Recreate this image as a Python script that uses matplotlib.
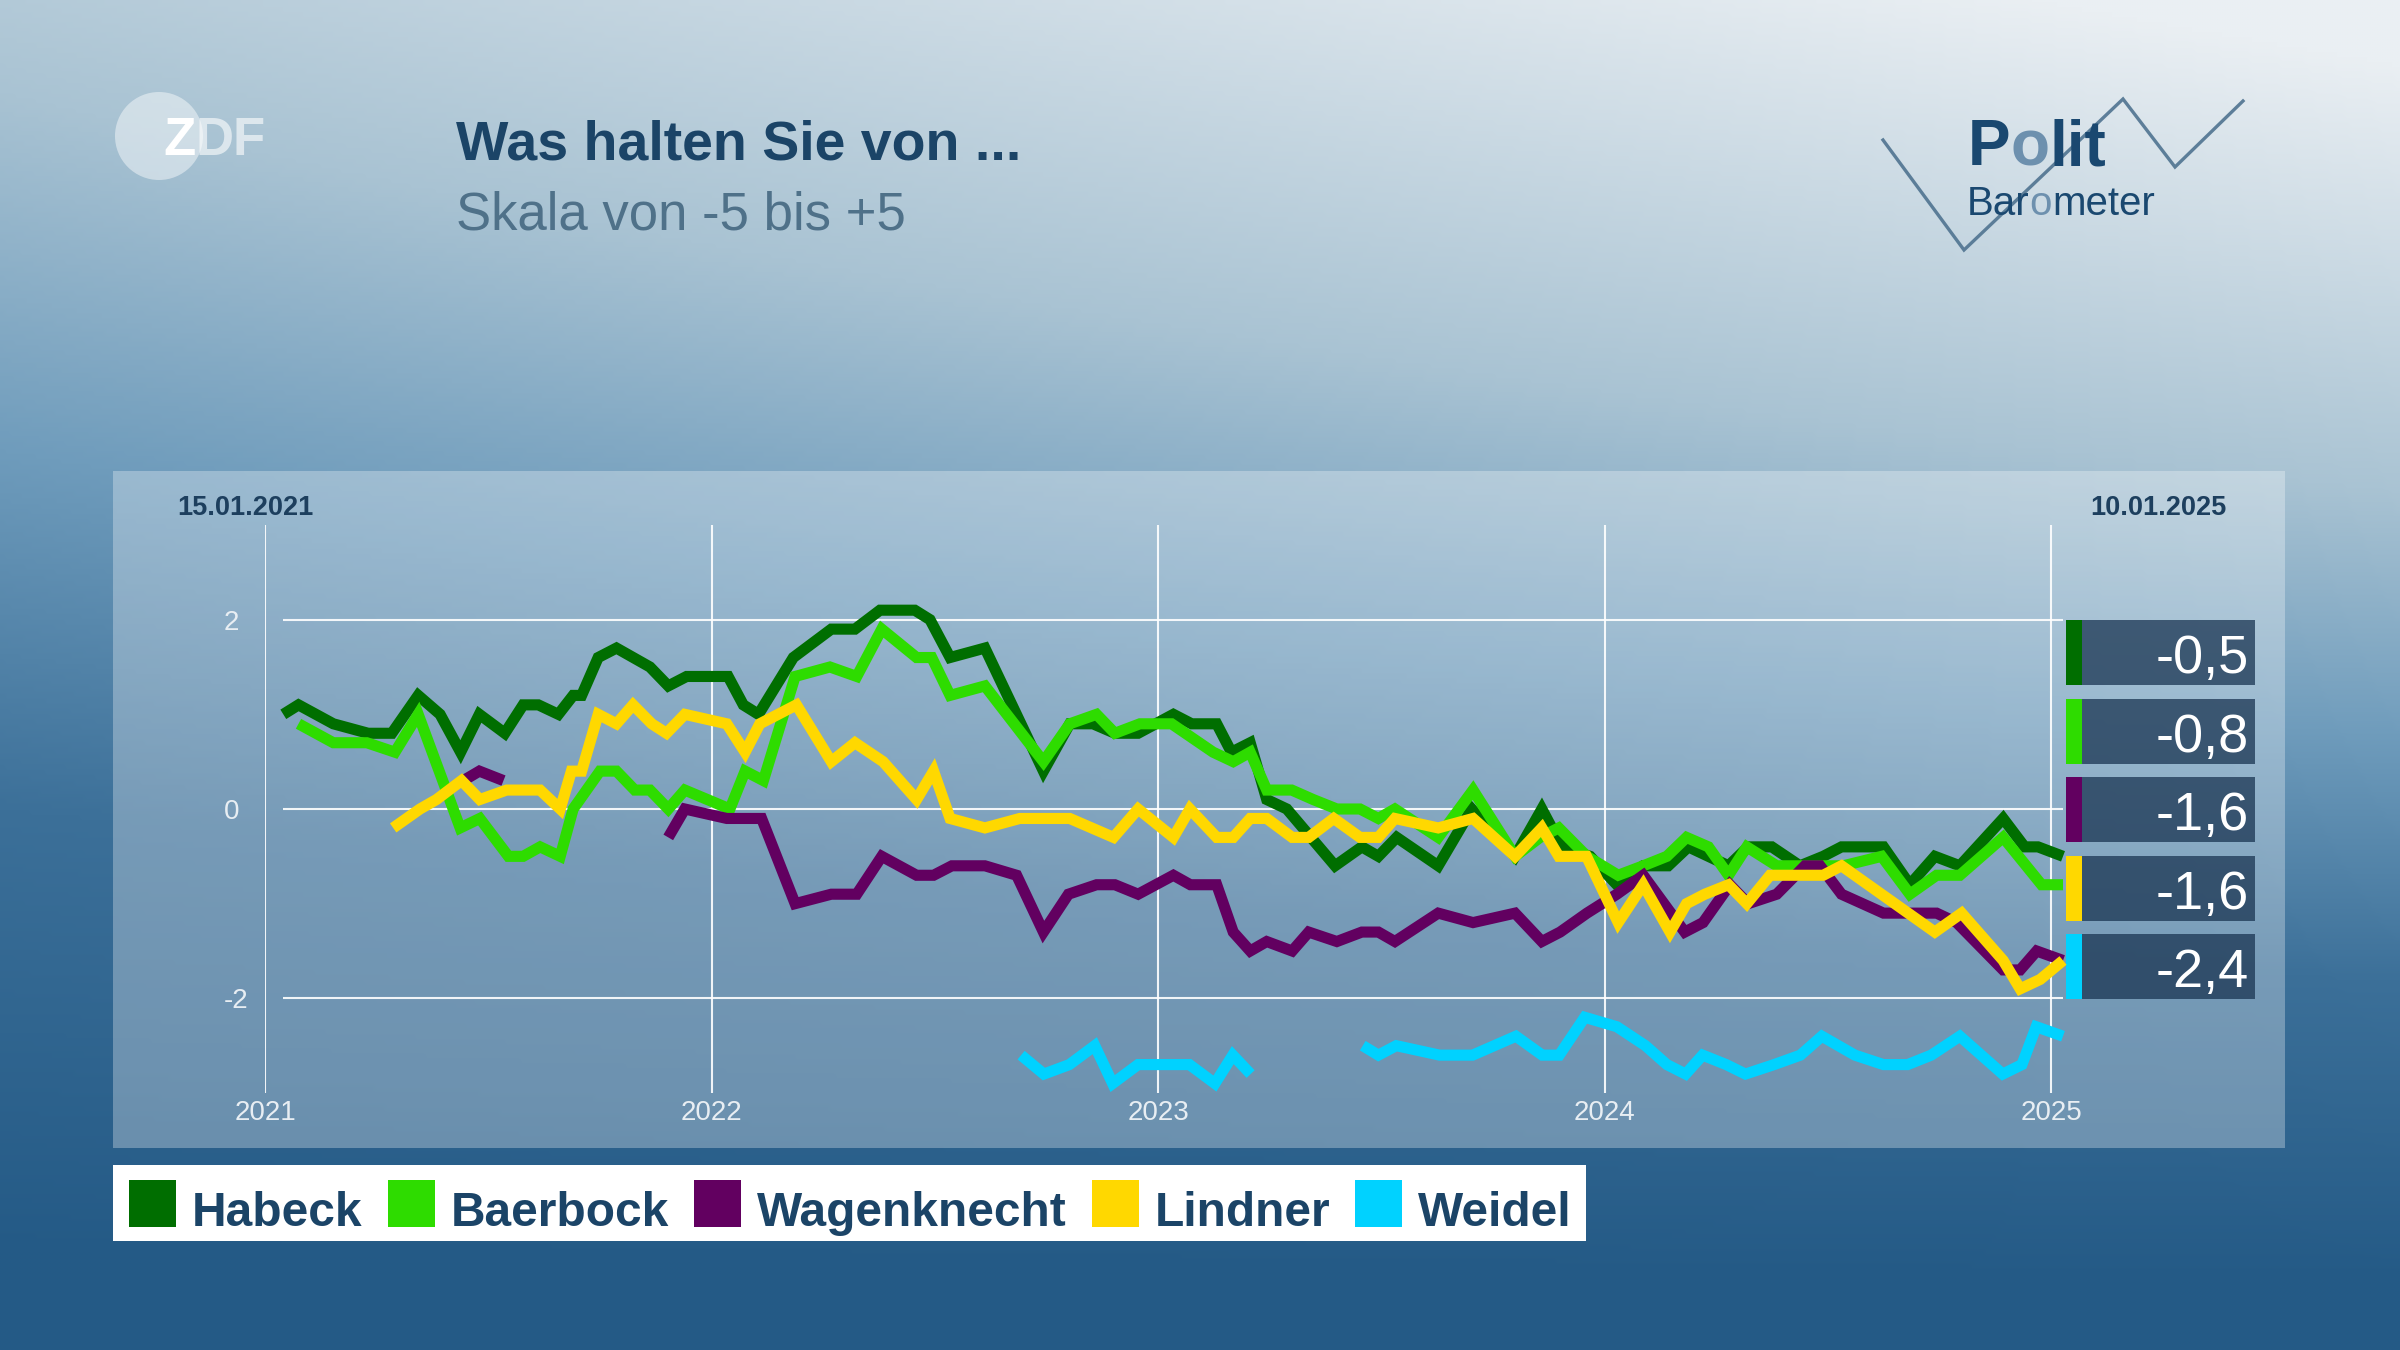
import numpy as np
import matplotlib
matplotlib.use("Agg")
import matplotlib.pyplot as plt
from matplotlib.colors import LinearSegmentedColormap
from matplotlib.patches import Rectangle, Circle

plt.rcParams["font.family"] = ["Liberation Sans", "DejaVu Sans"]

# ---- data (decimal years, score on -5..+5 scale) ----
names = ["Habeck", "Baerbock", "Wagenknecht", "Lindner", "Weidel"]
colors = ["#006e00", "#2edc00", "#620060", "#ffd800", "#00d2ff"]

habeck_t = [2021.041, 2021.075, 2021.153, 2021.231, 2021.284, 2021.343, 2021.392, 2021.438,
            2021.480, 2021.537, 2021.578, 2021.612, 2021.657, 2021.690, 2021.709, 2021.746,
            2021.787, 2021.862, 2021.903, 2021.944, 2022.037, 2022.071, 2022.105, 2022.183,
            2022.268, 2022.321, 2022.377, 2022.455, 2022.489, 2022.534, 2022.612, 2022.743,
            2022.802, 2022.854, 2022.903, 2022.955, 2023.034, 2023.075, 2023.131, 2023.164,
            2023.206, 2023.243, 2023.288, 2023.396, 2023.456, 2023.493, 2023.534, 2023.627,
            2023.702, 2023.799, 2023.859, 2023.904, 2023.967, 2024.027, 2024.086, 2024.142,
            2024.187, 2024.277, 2024.321, 2024.374, 2024.437, 2024.489, 2024.530, 2024.624,
            2024.683, 2024.739, 2024.795, 2024.892, 2024.940, 2024.970, 2025.026]
habeck_v = [1.0, 1.1, 0.9, 0.8, 0.8, 1.2, 1.0, 0.6, 1.0, 0.8, 1.1, 1.1, 1.0, 1.2, 1.2, 1.6,
            1.7, 1.5, 1.3, 1.4, 1.4, 1.1, 1.0, 1.6, 1.9, 1.9, 2.1, 2.1, 2.0, 1.6, 1.7, 0.4,
            0.9, 0.9, 0.8, 0.8, 1.0, 0.9, 0.9, 0.6, 0.7, 0.1, 0.0, -0.6, -0.4, -0.5, -0.3, -0.6,
            0.0, -0.5, 0.0, -0.4, -0.5, -0.8, -0.6, -0.6, -0.4, -0.6, -0.4, -0.4, -0.6, -0.5,
            -0.4, -0.4, -0.8, -0.5, -0.6, -0.1, -0.4, -0.4, -0.5]

baerbock_t = [2021.075, 2021.153, 2021.228, 2021.291, 2021.343, 2021.437, 2021.481, 2021.545,
              2021.578, 2021.616, 2021.661, 2021.690, 2021.750, 2021.787, 2021.828, 2021.862,
              2021.903, 2021.940, 2022.041, 2022.075, 2022.116, 2022.187, 2022.265, 2022.325,
              2022.381, 2022.459, 2022.493, 2022.534, 2022.612, 2022.743, 2022.802, 2022.862,
              2022.903, 2022.959, 2023.030, 2023.123, 2023.168, 2023.206, 2023.243, 2023.299,
              2023.347, 2023.400, 2023.452, 2023.493, 2023.530, 2023.627, 2023.705, 2023.799,
              2023.855, 2023.897, 2023.960, 2024.030, 2024.086, 2024.139, 2024.183, 2024.232,
              2024.277, 2024.318, 2024.385, 2024.459, 2024.534, 2024.620, 2024.683, 2024.743,
              2024.795, 2024.892, 2024.978, 2025.026]
baerbock_v = [0.9, 0.7, 0.7, 0.6, 1.0, -0.2, -0.1, -0.5, -0.5, -0.4, -0.5, 0.0, 0.4, 0.4,
              0.2, 0.2, 0.0, 0.2, 0.0, 0.4, 0.3, 1.4, 1.5, 1.4, 1.9, 1.6, 1.6, 1.2, 1.3, 0.5,
              0.9, 1.0, 0.8, 0.9, 0.9, 0.6, 0.5, 0.6, 0.2, 0.2, 0.1, 0.0, 0.0, -0.1, 0.0, -0.3,
              0.2, -0.5, -0.3, -0.2, -0.5, -0.7, -0.6, -0.5, -0.3, -0.4, -0.7, -0.4, -0.6, -0.6,
              -0.6, -0.5, -0.9, -0.7, -0.7, -0.3, -0.8, -0.8]

wagenknecht_t = [2021.444, 2021.480, 2021.534, np.nan,
                 2021.903, 2021.940, 2022.034, 2022.112, 2022.187, 2022.268, 2022.325, 2022.381,
                 2022.459, 2022.497, 2022.538, 2022.612, 2022.683, 2022.743, 2022.799, 2022.862,
                 2022.903, 2022.955, 2023.034, 2023.072, 2023.131, 2023.168, 2023.206, 2023.243,
                 2023.300, 2023.337, 2023.400, 2023.456, 2023.493, 2023.530, 2023.627, 2023.705,
                 2023.799, 2023.859, 2023.900, 2023.960, 2024.027, 2024.086, 2024.179, 2024.220,
                 2024.280, 2024.321, 2024.385, 2024.448, 2024.482, 2024.530, 2024.624, 2024.743,
                 2024.788, 2024.892, 2024.930, 2024.967, 2025.026]
wagenknecht_v = [0.3, 0.4, 0.3, np.nan,
                 -0.3, 0.0, -0.1, -0.1, -1.0, -0.9, -0.9, -0.5, -0.7, -0.7, -0.6, -0.6, -0.7,
                 -1.3, -0.9, -0.8, -0.8, -0.9, -0.7, -0.8, -0.8, -1.3, -1.5, -1.4, -1.5, -1.3,
                 -1.4, -1.3, -1.3, -1.4, -1.1, -1.2, -1.1, -1.4, -1.3, -1.1, -0.9, -0.7, -1.3,
                 -1.2, -0.8, -1.0, -0.9, -0.6, -0.6, -0.9, -1.1, -1.1, -1.2, -1.7, -1.7, -1.5, -1.6]

lindner_t = [2021.287, 2021.347, 2021.384, 2021.440, 2021.481, 2021.541, 2021.616, 2021.661,
             2021.686, 2021.709, 2021.746, 2021.787, 2021.824, 2021.866, 2021.899, 2021.940,
             2022.034, 2022.075, 2022.108, 2022.190, 2022.268, 2022.321, 2022.384, 2022.459,
             2022.497, 2022.534, 2022.612, 2022.690, 2022.802, 2022.851, 2022.900, 2022.955,
             2023.034, 2023.071, 2023.131, 2023.168, 2023.206, 2023.243, 2023.300, 2023.337,
             2023.393, 2023.452, 2023.493, 2023.530, 2023.627, 2023.705, 2023.799, 2023.859,
             2023.897, 2023.959, 2024.030, 2024.086, 2024.146, 2024.183, 2024.224, 2024.277,
             2024.318, 2024.370, 2024.489, 2024.530, 2024.739, 2024.799, 2024.892, 2024.930,
             2024.975, 2025.026]
lindner_v = [-0.2, 0.0, 0.1, 0.3, 0.1, 0.2, 0.2, 0.0, 0.4, 0.4, 1.0, 0.9, 1.1, 0.9, 0.8, 1.0,
             0.9, 0.6, 0.9, 1.1, 0.5, 0.7, 0.5, 0.1, 0.4, -0.1, -0.2, -0.1, -0.1, -0.2, -0.3,
             0.0, -0.3, 0.0, -0.3, -0.3, -0.1, -0.1, -0.3, -0.3, -0.1, -0.3, -0.3, -0.1, -0.2,
             -0.1, -0.5, -0.2, -0.5, -0.5, -1.2, -0.8, -1.3, -1.0, -0.9, -0.8, -1.0, -0.7, -0.7,
             -0.6, -1.3, -1.1, -1.6, -1.9, -1.8, -1.6]

weidel_t = [2022.693, 2022.744, 2022.801, 2022.858, 2022.898, 2022.955, 2023.070, 2023.127,
            2023.167, 2023.207, np.nan,
            2023.458, 2023.493, 2023.533, 2023.630, 2023.704, 2023.801, 2023.860, 2023.898,
            2023.955, 2024.027, 2024.091, 2024.139, 2024.181, 2024.219, 2024.272, 2024.315,
            2024.379, 2024.438, 2024.486, 2024.560, 2024.624, 2024.678, 2024.731, 2024.795,
            2024.843, 2024.891, 2024.934, 2024.966, 2025.026]
weidel_v = [-2.6, -2.8, -2.7, -2.5, -2.9, -2.7, -2.7, -2.9, -2.6, -2.8, np.nan,
            -2.5, -2.6, -2.5, -2.6, -2.6, -2.4, -2.6, -2.6, -2.2, -2.3, -2.5, -2.7, -2.8, -2.6,
            -2.7, -2.8, -2.7, -2.6, -2.4, -2.6, -2.7, -2.7, -2.6, -2.4, -2.6, -2.8, -2.7, -2.3,
            -2.4]

series_t = [habeck_t, baerbock_t, wagenknecht_t, lindner_t, weidel_t]
series_v = [habeck_v, baerbock_v, wagenknecht_v, lindner_v, weidel_v]

year_ticks = [2021, 2022, 2023, 2024, 2025]
y_ticks = [-2, 0, 2]
first_label = "15.01.2021"
last_label = "10.01.2025"
title = "Was halten Sie von ..."
subtitle = "Skala von -5 bis +5"

W, H = 2400, 1350
NAVY = "#1b4467"

fig = plt.figure(figsize=(24, 13.5), dpi=100)

# background gradient (pixel coordinates, y down)
bg = fig.add_axes([0, 0, 1, 1])
yy, xx = np.mgrid[0:1:270j, 0:1:480j]
s = np.clip(yy * 1.1 + (1 - xx) * 0.35 * (1 - yy) - 0.05, 0, 1)
cmap = LinearSegmentedColormap.from_list(
    "bg", [(0, "#eaeff3"), (0.35, "#a9c3d3"), (0.55, "#6f9cbc"),
           (0.75, "#3c7099"), (1, "#245a86")])
bg.imshow(cmap(s), extent=[0, W, H, 0], aspect="auto", interpolation="bilinear")
bg.set_xlim(0, W)
bg.set_ylim(H, 0)
bg.axis("off")

renderer = fig.canvas.get_renderer()


def seq_text(x, y, pieces, **kw):
    for txt, col, a in pieces:
        t = bg.text(x, y, txt, color=col, alpha=a, ha="left", va="baseline", **kw)
        x += t.get_window_extent(renderer).width
    return x


# chart panel
bg.add_patch(Rectangle((113, 471), 2172, 677, fc="white", alpha=0.3, ec="none"))

# ZDF logo
bg.add_patch(Circle((159, 136), 44, fc="white", alpha=0.45, ec="none"))
seq_text(163, 155, [("Z", "white", 1.0), ("DF", "white", 0.6)], fontsize=38, weight="bold")

# titles
bg.text(456, 160, title, fontsize=40, weight="bold", color=NAVY, va="baseline")
bg.text(456, 230, subtitle, fontsize=38, color="#4f7189", va="baseline")

# Politbarometer logo
seq_text(1968, 165, [("P", "#1a4870", 1), ("o", "#6d90ae", 1), ("lit", "#1a4870", 1)],
         fontsize=46, weight="bold")
seq_text(1967, 215, [("Bar", "#1a4870", 1), ("o", "#6d90ae", 1), ("meter", "#1a4870", 1)],
         fontsize=29)
bg.plot([1883, 1964, 2123, 2175, 2243], [140, 250, 99, 167, 101],
        color="#4f7390", lw=2.4, alpha=0.9, solid_joinstyle="miter")

# date labels
bg.text(177, 508, first_label, fontsize=19.5, weight="bold", color="#1d3f5e", va="center")
bg.text(2090, 508, last_label, fontsize=19.5, weight="bold", color="#1d3f5e", va="center")

# main chart axes
ax = fig.add_axes([265 / W, 1 - 1093 / H, 1800 / W, 568 / H])
ax.set_facecolor("none")
ax.set_xlim(2021, 2021 + 1800 / 446.6)
ax.set_ylim(-3, 3)
for sp in ax.spines.values():
    sp.set_visible(False)
ax.set_xticks(year_ticks)
ax.set_xticklabels([str(y) for y in year_ticks])
ax.set_yticks(y_ticks)
ax.set_yticklabels([str(y) for y in y_ticks])
ax.tick_params(length=0, labelsize=20, labelcolor="#e8eef3")
ax.tick_params(axis="x", pad=5)
ax.tick_params(axis="y", pad=29.5)
for lab in ax.get_yticklabels():
    lab.set_ha("left")
ax.grid(axis="x", color="white", lw=1.5, alpha=0.9)
t_all = np.concatenate([np.asarray(t, float) for t in series_t])
ax.hlines(y_ticks, np.nanmin(t_all), np.nanmax(t_all), color="white", lw=1.5, alpha=0.9)

for t, v, c in zip(series_t, series_v, colors):
    ax.plot(np.asarray(t, float), np.asarray(v, float), color=c, lw=8,
            solid_joinstyle="miter", solid_capstyle="butt", clip_on=False)

# latest value boxes
last_vals = [np.asarray(v, float)[-1] for v in series_v]
for i, (val, c) in enumerate(zip(last_vals, colors)):
    y0 = 620 + i * 78.6
    bg.add_patch(Rectangle((2066, y0), 16, 65, fc=c, ec="none", zorder=3))
    bg.add_patch(Rectangle((2082, y0), 173, 65, fc="#1a3552", alpha=0.75, ec="none", zorder=3))
    bg.text(2249, y0 + 53, f"{val:.1f}".replace(".", ","), fontsize=39, color="white",
            ha="right", va="baseline", zorder=4)

# legend
x = 129
for name, c in zip(names, colors):
    bg.add_patch(Rectangle((x, 1180), 47, 47, fc=c, ec="none", zorder=3))
    t = bg.text(x + 63, 1226, name, fontsize=34.5, weight="bold", color=NAVY,
                va="baseline", zorder=3)
    x = x + 63 + t.get_window_extent(renderer).width + 25
bg.add_patch(Rectangle((113, 1165), x - 25 + 14 - 113, 76, fc="white", ec="none", zorder=2))

fig.savefig("out.png", dpi=100)
